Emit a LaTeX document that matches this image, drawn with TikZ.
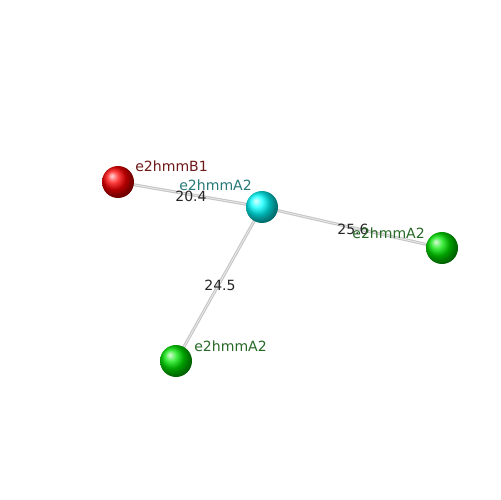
\documentclass[tikz,border=0pt]{standalone}
\usepackage{fontspec}
\setmainfont{DejaVu Sans}
\begin{document}
\begin{tikzpicture}[x=0.02cm,y=-0.02cm,
  bond/.style={draw=black!22,line width=0.06cm},
  bondin/.style={draw=white!92!black,line width=0.015cm},
  atom/.style={circle,minimum size=0.64cm,inner sep=0pt,shading=ball},
  lbl/.style={anchor=west,inner sep=0pt,font=\fontsize{8}{9}\selectfont},
  num/.style={anchor=west,inner sep=0pt,font=\fontsize{8}{9}\selectfont,text=black!85}]
\useasboundingbox (0,0) rectangle (500,500);
\coordinate (cR) at (118,182);
\coordinate (cC) at (262,207);
\coordinate (cG) at (442,248);
\coordinate (cB) at (176,361);
\draw[bond] (cR) -- (cC);
\draw[bond] (cC) -- (cG);
\draw[bond] (cC) -- (cB);
\draw[bondin] (cR) -- (cC);
\draw[bondin] (cC) -- (cG);
\draw[bondin] (cC) -- (cB);
\node[atom,ball color=red] (r) at (cR) {};
\node[atom,ball color=cyan] (c) at (cC) {};
\node[atom,ball color=green!90!black] (g) at (cG) {};
\node[atom,ball color=green!90!black] (b) at (cB) {};
\node[lbl,text={rgb,255:red,110;green,25;blue,25}] (lr) at (135,166) {e2hmmB1};
\node[lbl,text={rgb,255:red,40;green,120;blue,120}] (lc) at (179,185) {e2hmmA2};
\node[num] (n1) at (175,196) {20.4};
\node[num] (n2) at (337,229) {25.6};
\node[lbl,text={rgb,255:red,40;green,105;blue,40}] (lg) at (352,233) {e2hmmA2};
\node[num] (n3) at (204,285) {24.5};
\node[lbl,text={rgb,255:red,40;green,105;blue,40}] (lb) at (194,346) {e2hmmA2};
\end{tikzpicture}
\end{document}
